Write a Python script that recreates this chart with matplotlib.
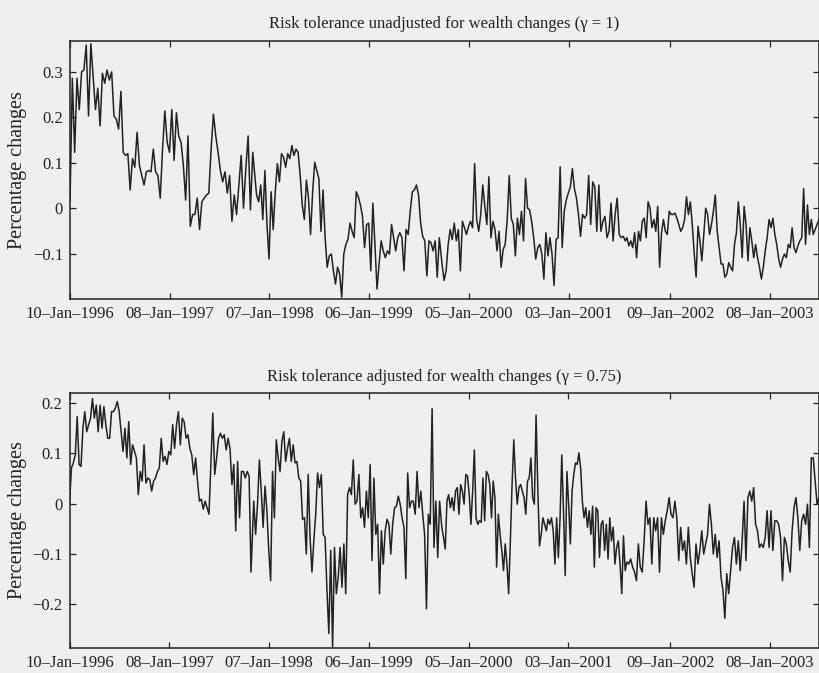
"""
Weekly percentage changes in risk tolerance, with and without
an adjustment for wealth changes.
"""

import pandas as pd
import matplotlib.pyplot as plt

# Unadjusted series (gamma = 1) in four stretches
unadj_1996_97 = [
    0.015, 0.286, 0.123, 0.286, 0.217, 0.300, 0.304, 0.359, 0.203, 0.362,
    0.290, 0.217, 0.264, 0.181, 0.297, 0.275, 0.304, 0.282, 0.300, 0.203,
    0.196, 0.174, 0.257, 0.123, 0.116, 0.120, 0.040, 0.109, 0.090, 0.167,
    0.094, 0.072, 0.051, 0.080, 0.083, 0.080, 0.130, 0.080, 0.072, 0.022,
    0.130, 0.214, 0.145, 0.123, 0.217, 0.105, 0.210, 0.159, 0.145, 0.094,
    0.018, 0.159, -0.040, -0.014, -0.014, 0.022, -0.047, 0.014, 0.022, 0.029,
    0.033, 0.130, 0.207, 0.159, 0.123, 0.083, 0.058, 0.080, 0.033, 0.072,
    -0.029, 0.029, -0.014, 0.051, 0.116, 0.000, 0.087, 0.159, -0.004, 0.123,
]
unadj_1997_99 = [
    0.029, 0.014, 0.051, -0.025, 0.083, -0.036, -0.112, 0.036, -0.047, 0.036,
    0.098, 0.058, 0.120, 0.112, 0.090, 0.120, 0.109, 0.138, 0.116, 0.130,
    0.123, 0.072, 0.007, -0.025, 0.062, 0.022, -0.058, 0.036, 0.101, 0.083,
    0.065, -0.051, 0.040, -0.065, -0.130, -0.105, -0.101, -0.138, -0.167, -0.130,
    -0.145, -0.196, -0.101, -0.080, -0.069, -0.033, -0.051, -0.065, 0.036, 0.025,
    0.007, -0.018, -0.087, -0.036, -0.033, -0.138, 0.011, -0.080, -0.178, -0.123,
    -0.072, -0.094, -0.109, -0.094, -0.101, -0.036, -0.065, -0.094, -0.065, -0.054,
    -0.065, -0.138, -0.047, -0.058, -0.007, 0.036, 0.040, 0.051, 0.029, -0.033,
    -0.062, -0.072, -0.149, -0.072, -0.076, -0.094, -0.072, -0.152, -0.065,
]
unadj_1999_01 = [
    -0.123, -0.159, -0.138, -0.080, -0.047, -0.069, -0.033, -0.072, -0.047, -0.138,
    -0.029, -0.043, -0.058, -0.040, -0.029, -0.043, 0.098, -0.025, -0.051, -0.014,
    0.051, 0.004, -0.036, 0.069, -0.065, -0.029, -0.047, -0.094, -0.051, -0.130,
    -0.091, -0.080, -0.025, 0.072, -0.022, -0.036, -0.105, -0.022, -0.058, -0.007,
    -0.072, 0.065, 0.000, -0.004, -0.029, -0.065, -0.112, -0.087, -0.080, -0.101,
    -0.156, -0.054, -0.105, -0.065, -0.101, -0.170, -0.069, -0.065, 0.091, -0.087,
    -0.007, 0.018, 0.033, 0.047, 0.087, 0.043, 0.022, -0.014, -0.062, -0.014,
    -0.022, -0.014, 0.072, -0.036, 0.058, 0.047, -0.051, 0.051, -0.051, -0.029,
    -0.018, -0.065, -0.051, 0.011, -0.072, -0.014, 0.022, -0.058, -0.065, -0.062,
    -0.072,
]
unadj_2001_03 = [
    -0.065, -0.083, -0.072, -0.087, -0.054, -0.109, -0.051, -0.072, -0.029, -0.022,
    -0.065, 0.014, 0.000, -0.043, -0.025, -0.051, 0.004, -0.130, -0.054, -0.025,
    -0.051, -0.058, -0.007, -0.014, -0.014, -0.011, -0.022, -0.036, -0.051, -0.043,
    -0.025, 0.025, -0.014, 0.014, -0.036, -0.098, -0.152, -0.040, -0.072, -0.116,
    -0.058, 0.000, -0.014, -0.058, -0.036, -0.007, 0.029, -0.051, -0.087, -0.123,
    -0.123, -0.152, -0.145, -0.120, -0.130, -0.138, -0.080, -0.054, 0.014, -0.036,
    -0.109, 0.004, -0.036, -0.116, -0.043, -0.072, -0.109, -0.080, -0.109, -0.130,
    -0.156, -0.130, -0.094, -0.065, -0.025, -0.043, -0.022, -0.058, -0.080, -0.112,
    -0.130, -0.112, -0.101, -0.109, -0.080, -0.087, -0.043, -0.087, -0.098, -0.083,
    -0.072, -0.065, 0.043, -0.080, 0.007, -0.058, -0.025, -0.058, -0.047, -0.036,
    -0.025,
]

# Adjusted series (gamma = 0.75)
adj_1996_97 = [
    0.000, 0.071, 0.081, 0.097, 0.173, 0.078, 0.074, 0.150, 0.183, 0.143,
    0.157, 0.170, 0.209, 0.170, 0.196, 0.143, 0.196, 0.150, 0.193, 0.157,
    0.130, 0.130, 0.183, 0.183, 0.190, 0.203, 0.183, 0.143, 0.104, 0.150,
    0.091, 0.163, 0.078, 0.117, 0.104, 0.091, 0.018, 0.064, 0.045, 0.117,
    0.041, 0.051, 0.048, 0.025, 0.045, 0.051, 0.064, 0.071, 0.130, 0.084,
    0.094, 0.078, 0.104, 0.097, 0.157, 0.110, 0.157, 0.183, 0.117, 0.170,
    0.163, 0.130, 0.137, 0.110, 0.097, 0.058, 0.091, 0.045, 0.005, 0.009,
    -0.011, 0.005, -0.008, -0.021, 0.078, 0.180, 0.058, 0.091, 0.130, 0.140,
    0.130, 0.137, 0.107, 0.130, 0.110, 0.038, 0.078, -0.054, 0.084, -0.028,
    0.064, 0.064, 0.051, 0.064, 0.055, -0.136,
]
adj_1997_99 = [
    0.005, -0.061, -0.001, 0.087, 0.025, -0.047, 0.035, -0.014, -0.093, -0.153,
    0.064, -0.028, 0.127, 0.091, 0.064, 0.124, 0.143, 0.084, 0.110, 0.130,
    0.084, 0.117, 0.081, 0.084, 0.051, 0.045, -0.031, -0.028, -0.100, 0.058,
    -0.067, -0.136, -0.074, -0.021, 0.061, 0.032, 0.058, -0.061, -0.067, -0.172,
    -0.258, -0.093, -0.285, -0.087, -0.179, -0.146, -0.087, -0.166, -0.080, -0.179,
    0.018, 0.032, 0.018, 0.087, -0.001, 0.005, 0.058, -0.028, -0.008, -0.047,
    0.025, -0.028, 0.078, -0.113, 0.051, -0.061, -0.041, -0.179, -0.054, -0.120,
    -0.054, -0.031, -0.041, -0.100, -0.041, -0.008, -0.005, 0.015, -0.001, -0.028,
    -0.047, -0.149, 0.061, -0.008, 0.005, 0.005, -0.021, 0.064, -0.008, 0.025,
    -0.021, -0.061, -0.209, -0.021, -0.041, 0.189, -0.087, 0.005, -0.107, 0.005,
]
adj_1999_01 = [
    -0.047, -0.067, -0.090, 0.005, 0.018, -0.008, 0.012, -0.014, 0.025, 0.032,
    -0.021, 0.038, 0.025, -0.001, 0.058, 0.055, 0.018, -0.041, 0.025, 0.107,
    -0.028, -0.041, -0.034, -0.037, 0.051, -0.034, 0.064, 0.058, 0.038, -0.028,
    0.045, 0.012, -0.126, -0.021, -0.061, -0.093, -0.133, -0.080, -0.120, -0.179,
    -0.074, 0.038, 0.127, 0.051, -0.001, 0.032, 0.038, 0.025, 0.012, -0.021,
    0.045, 0.051, 0.091, 0.012, -0.001, 0.176, 0.032, -0.084, -0.061, -0.028,
    -0.041, -0.054, -0.031, -0.041, -0.028, -0.054, -0.120, -0.028, -0.107, -0.028,
    0.097, -0.014, -0.143, 0.064, -0.001, -0.080, 0.025, 0.058, 0.081, 0.078,
    0.101, 0.071, 0.005, -0.028, -0.008, -0.047, -0.014, -0.061, -0.005, -0.126,
    -0.008, -0.014, -0.107, -0.041, -0.034, -0.093, -0.041, -0.110, -0.028, -0.074,
    -0.047, -0.120, -0.087, -0.074, -0.120, -0.179, -0.064, -0.133,
]
adj_2001_03 = [
    -0.116, -0.120, -0.110, -0.126, -0.136, -0.153, -0.080, -0.126, -0.136, -0.074,
    0.005, -0.041, -0.028, -0.120, -0.028, -0.054, -0.028, -0.136, -0.028, -0.061,
    -0.034, -0.014, 0.012, -0.021, -0.028, 0.005, -0.028, -0.113, -0.047, -0.093,
    -0.074, -0.120, -0.047, -0.107, -0.139, -0.166, -0.080, -0.120, -0.093, -0.054,
    -0.100, -0.080, -0.061, -0.001, -0.041, -0.100, -0.061, -0.107, -0.074, -0.146,
    -0.172, -0.228, -0.139, -0.179, -0.133, -0.087, -0.067, -0.120, -0.074, -0.133,
    -0.074, 0.005, -0.113, 0.012, 0.025, 0.005, 0.032, -0.041, -0.054, -0.087,
    -0.080, -0.087, -0.067, -0.014, -0.087, -0.014, -0.093, -0.034, -0.034, -0.041,
    -0.067, -0.153, -0.067, -0.080, -0.113, -0.136, -0.054, -0.008, 0.012, -0.028,
    -0.093, -0.034, -0.021, -0.041, -0.001, -0.087, 0.091, 0.091, 0.045, -0.001,
    0.012,
]

# Date span covered by each stretch of readings
unadj_spans = [("1996-01-10", "1997-11-07"), ("1997-11-21", "1999-09-19"),
               ("1999-09-29", "2001-07-29"), ("2001-08-04", "2003-07-06")]
adj_spans = [("1996-01-10", "1997-11-02"), ("1997-11-12", "1999-09-21"),
             ("1999-09-29", "2001-07-29"), ("2001-08-04", "2003-07-06")]

tick_dates = ["1996-01-10", "1997-01-08", "1998-01-07", "1999-01-06",
              "2000-01-05", "2001-01-03", "2002-01-09", "2003-01-08"]
tick_labels = ["10–Jan–1996", "08–Jan–1997", "07–Jan–1998", "06–Jan–1999",
               "05–Jan–2000", "03–Jan–2001", "09–Jan–2002", "08–Jan–2003"]

PAPER = "#efefed"
INK = "#222222"


def build_series(stretches, spans):
    """Join the stretches into one dated series."""
    parts = []
    for values, (start, end) in zip(stretches, spans):
        index = pd.date_range(start, end, periods=len(values))
        parts.append(pd.Series(values, index=index))
    return pd.concat(parts)


def style_axes(ax, title, yticks, ylim):
    """Matlab-like box axes with inward ticks on every side."""
    ax.set_facecolor(PAPER)
    ax.set_xlim(pd.Timestamp("1996-01-10"), pd.Timestamp("2003-07-06"))
    ax.set_ylim(*ylim)
    ax.set_xticks(pd.to_datetime(tick_dates))
    ax.set_xticklabels(tick_labels)
    ax.set_yticks(yticks)
    ax.set_yticklabels([f"{v:g}".replace("-", "−") for v in yticks])
    ax.tick_params(direction="in", length=4, width=0.9, top=True, right=True,
                   colors=INK, labelsize=12, pad=5)
    for spine in ax.spines.values():
        spine.set_color(INK)
        spine.set_linewidth(1.1)
    ax.set_ylabel("Percentage changes", fontsize=14.5, color=INK, labelpad=4)
    ax.set_title(title, fontsize=12, color=INK, pad=9)


plt.rcParams["font.family"] = ["Liberation Serif", "DejaVu Serif"]

unadjusted = build_series([unadj_1996_97, unadj_1997_99, unadj_1999_01, unadj_2001_03], unadj_spans)
adjusted = build_series([adj_1996_97, adj_1997_99, adj_1999_01, adj_2001_03], adj_spans)

fig = plt.figure(figsize=(8.19, 6.73), dpi=100, facecolor=PAPER)

ax_top = fig.add_axes([0.0855, 0.5557, 0.9145, 0.3834])
ax_top.plot(unadjusted.index, unadjusted.values, color=INK, linewidth=1.1)
style_axes(ax_top, "Risk tolerance unadjusted for wealth changes (γ = 1)",
           [-0.1, 0, 0.1, 0.2, 0.3], (-0.2, 0.368))

ax_bottom = fig.add_axes([0.0849, 0.0371, 0.9151, 0.3789])
ax_bottom.plot(adjusted.index, adjusted.values, color=INK, linewidth=1.1)
style_axes(ax_bottom, "Risk tolerance adjusted for wealth changes (γ = 0.75)",
           [-0.2, -0.1, 0, 0.1, 0.2], (-0.287, 0.22))

fig.savefig("out.png", dpi=100, facecolor=PAPER)
